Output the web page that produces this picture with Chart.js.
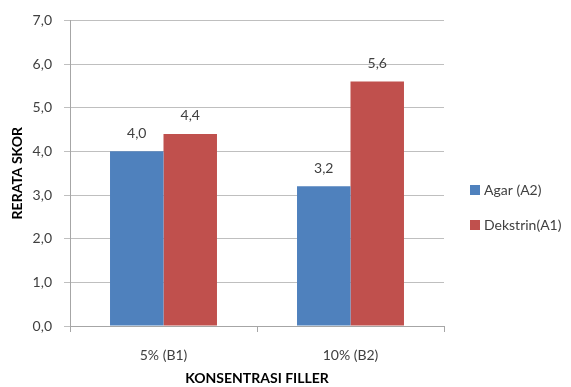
<!DOCTYPE html>
<html>
<head>
<meta charset="utf-8">
<script src="https://cdn.jsdelivr.net/npm/chart.js@4/dist/chart.umd.min.js"></script>
<style>
  html, body { margin: 0; padding: 0; background: #ffffff; }
  #wrap { width: 571px; height: 387px; position: relative; }
</style>
</head>
<body>
<div id="wrap"><canvas id="c" width="571" height="387"></canvas></div>
<script>
// Category labels (filler concentration) and mean scores per filler type
const categories = ['5% (B1)', '10% (B2)'];
const agarScores = [4.0, 3.2];
const dekstrinScores = [4.4, 5.6];
const seriesNames = ['Agar (A2)', 'Dekstrin(A1)'];
const yTicks = [0, 1, 2, 3, 4, 5, 6, 7];

const FONT = 'Lato, "Liberation Sans", sans-serif';
const TEXT = '#404040';
const fmt = v => v.toFixed(1).replace('.', ',');

// Value labels above each bar
const valueLabels = {
  id: 'valueLabels',
  afterDatasetsDraw(chart) {
    const ctx = chart.ctx;
    ctx.save();
    ctx.font = '14px ' + FONT;
    ctx.fillStyle = TEXT;
    ctx.textAlign = 'center';
    ctx.textBaseline = 'middle';
    chart.data.datasets.forEach((ds, i) => {
      chart.getDatasetMeta(i).data.forEach((bar, j) => {
        ctx.fillText(fmt(ds.data[j]), bar.x, bar.y - 18);
      });
    });
    ctx.restore();
  }
};

// Legend on the right with square swatches
const sideLegend = {
  id: 'sideLegend',
  afterDraw(chart) {
    const ctx = chart.ctx;
    ctx.save();
    ctx.font = '14px ' + FONT;
    ctx.textBaseline = 'middle';
    ctx.textAlign = 'left';
    chart.data.datasets.forEach((ds, i) => {
      const y = 190 + i * 35;
      ctx.fillStyle = ds.backgroundColor;
      ctx.fillRect(470, y - 5, 10, 10);
      ctx.fillStyle = TEXT;
      ctx.fillText(ds.label, 484, y);
    });
    ctx.restore();
  }
};

new Chart(document.getElementById('c'), {
  type: 'bar',
  data: {
    labels: categories,
    datasets: [
      { label: seriesNames[0], data: agarScores, backgroundColor: '#4f81bd' },
      { label: seriesNames[1], data: dekstrinScores, backgroundColor: '#c0504d' }
    ]
  },
  options: {
    responsive: false,
    animation: false,
    layout: { padding: { top: 20, right: 127, bottom: 0, left: 0 } },
    datasets: { bar: { categoryPercentage: 0.572, barPercentage: 1.0 } },
    plugins: {
      legend: { display: false },
      tooltip: { enabled: false }
    },
    scales: {
      x: {
        afterFit(s) { s.height = 61; },
        grid: {
          offset: true,
          drawOnChartArea: false,
          drawTicks: true,
          tickLength: 6,
          color: '#a6a6a6'
        },
        border: { color: '#a6a6a6' },
        ticks: { font: { family: FONT, size: 14 }, color: TEXT, padding: 15 },
        title: {
          display: true,
          text: 'KONSENTRASI FILLER',
          font: { family: FONT, size: 14, weight: 'bold' },
          color: '#000000',
          padding: { top: 0, bottom: 0 }
        }
      },
      y: {
        min: 0,
        max: 7,
        afterFit(s) { s.width = 70; },
        afterBuildTicks(s) { s.ticks = yTicks.map(v => ({ value: v })); },
        grid: { color: '#bfbfbf', tickLength: 6, drawTicks: true },
        border: { color: '#a6a6a6' },
        ticks: {
          font: { family: FONT, size: 14 },
          color: TEXT,
          padding: 12,
          callback: v => fmt(v)
        },
        title: {
          display: true,
          text: 'RERATA SKOR',
          font: { family: FONT, size: 14, weight: 'bold' },
          color: '#000000',
          padding: { top: 9, bottom: 0 }
        }
      }
    }
  },
  plugins: [valueLabels, sideLegend]
});
</script>
</body>
</html>
